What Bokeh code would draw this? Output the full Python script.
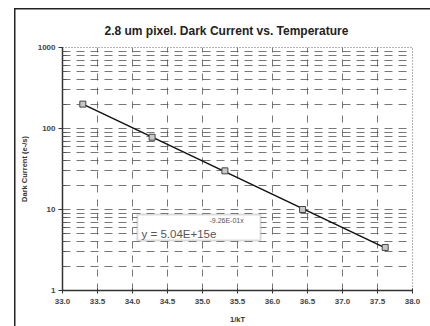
import numpy as np
from bokeh.plotting import figure
from bokeh.models import (Range1d, FixedTicker, PrintfTickFormatter, Label,
                          BoxAnnotation, ColumnDataSource)
from bokeh.embed import file_html
from bokeh.resources import INLINE

# data
inv_kT = [33.29, 34.28, 35.32, 36.43, 37.61]
dark_current = [200, 78, 30, 10, 3.4]
x_ticks = [33.0, 33.5, 34.0, 34.5, 35.0, 35.5, 36.0, 36.5, 37.0, 37.5, 38.0]
y_ticks = [1, 10, 100, 1000]
y_minor = [m * d for d in (1, 10, 100) for m in range(2, 10)]
title_text = "2.8 um pixel.  Dark Current vs. Temperature"
x_label = "1/kT"
y_label = "Dark Current (e-/s)"
eq_main = "y = 5.04E+15e"
eq_sup = "-9.26E-01x"

FONT = "Liberation Sans"

p = figure(width=430, height=326, y_axis_type="log",
           x_range=Range1d(33.0, 38.0), y_range=Range1d(1, 1000),
           output_backend="svg", toolbar_location=None,
           min_border_left=62, min_border_right=18,
           min_border_top=47, min_border_bottom=36)

p.title.text = title_text
p.title.align = "left"
p.title.offset = 42
p.title.vertical_align = "top"
p.title.standoff = 15
p.title.text_font = FONT
p.title.text_font_size = "12px"
p.title.text_font_style = "bold"
p.title.text_color = "#222222"

p.background_fill_color = "white"
p.border_fill_color = None
p.outline_line_color = "#666666"
p.outline_line_dash = "1 2"

# outer chart frame: left and top edges (drawn as host background lines)
p.styles = {
    "background-color": "white",
    "background-image": "linear-gradient(#222,#222), linear-gradient(#222,#222)",
    "background-position": "14px 8px, 14px 8px",
    "background-size": "1.5px 100%, 100% 1.5px",
    "background-repeat": "no-repeat",
}

# axes
p.xaxis.ticker = FixedTicker(ticks=x_ticks)
p.xaxis.formatter = PrintfTickFormatter(format="%.1f")
p.yaxis.ticker = FixedTicker(ticks=y_ticks, minor_ticks=y_minor)
p.yaxis.formatter = PrintfTickFormatter(format="%d")
for ax in (p.xaxis, p.yaxis):
    ax.axis_line_color = "#333333"
    ax.axis_line_width = 1.5
    ax.major_tick_line_color = "#333333"
    ax.minor_tick_line_color = "#555555"
    ax.major_label_text_font = FONT
    ax.major_label_text_font_size = "8px"
    ax.major_label_text_font_style = "bold"
    ax.major_label_text_color = "#444444"
    ax.axis_label_text_font = FONT
    ax.axis_label_text_font_size = "7.5px"
    ax.axis_label_text_font_style = "bold"
    ax.axis_label_text_color = "#333333"
p.xaxis.major_tick_in = 2
p.xaxis.major_tick_out = 3
p.xaxis.minor_tick_line_color = None
p.yaxis.major_tick_in = 0
p.yaxis.major_tick_out = 4
p.yaxis.minor_tick_in = 4
p.yaxis.minor_tick_out = 0
p.xaxis.major_label_standoff = 5
p.yaxis.major_label_standoff = 3
p.xaxis.axis_label = x_label
p.yaxis.axis_label = y_label
p.xaxis.axis_label_standoff = 8
p.yaxis.axis_label_standoff = 6

# grids
p.xgrid.grid_line_color = "#555555"
p.xgrid.grid_line_dash = "7 7"
p.xgrid.grid_line_alpha = 0.8
p.ygrid.grid_line_color = "#555555"
p.ygrid.grid_line_dash = "8 6"
p.ygrid.grid_line_alpha = 0.8
p.ygrid.minor_grid_line_color = "#555555"
p.ygrid.minor_grid_line_dash = "8 6"
p.ygrid.minor_grid_line_alpha = 0.8

# exponential trendline fitted to the data
coef = np.polyfit(np.array(inv_kT), np.log(np.array(dark_current)), 1)
tx = np.array([min(inv_kT), max(inv_kT)])
ty = np.exp(np.polyval(coef, tx))
p.line(tx, ty, line_color="#111111", line_width=1.5)

src = ColumnDataSource(dict(x=inv_kT, y=dark_current))
p.scatter("x", "y", source=src, marker="square", size=6,
          fill_color="#c8c8c8", line_color="#444444", line_width=1)

# equation box
box = BoxAnnotation(left=34.07, right=35.83, bottom=4.14, top=8.67,
                    fill_color="white", fill_alpha=1,
                    line_color="#888888", line_width=2)
p.add_layout(box)
p.add_layout(Label(x=34.13, y=5.0, text=eq_main, text_font=FONT,
                   text_font_size="11.5px", text_color="#555555",
                   text_baseline="alphabetic"))
p.add_layout(Label(x=35.1, y=7.3, text=eq_sup, text_font=FONT,
                   text_font_size="7px", text_color="#555555",
                   text_baseline="middle"))

open("out.html", "w").write(file_html(p, INLINE))
